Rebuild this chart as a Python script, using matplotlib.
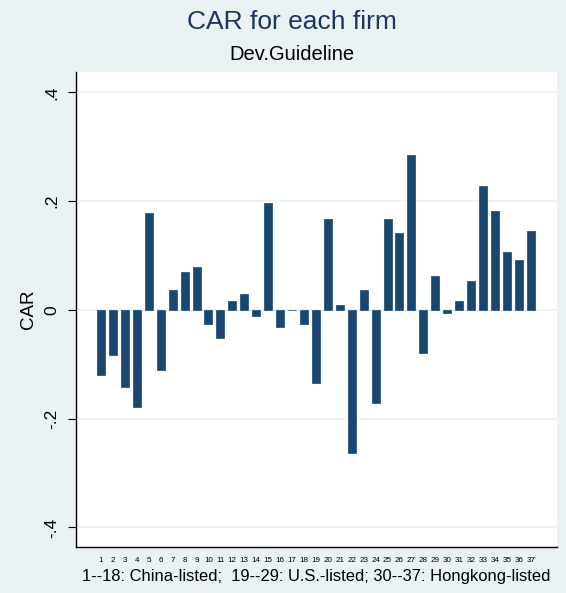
import numpy as np
import matplotlib.pyplot as plt

plt.rcParams['font.family'] = ['Liberation Sans', 'DejaVu Sans']

# firm numbers and CAR values
firms = list(range(1, 38))
car = [-0.119, -0.083, -0.142, -0.179, 0.178, -0.110, 0.036, 0.069, 0.079, -0.025,
       -0.051, 0.016, 0.029, -0.011, 0.196, -0.031, 0.0, -0.026, -0.135, 0.167,
       0.009, -0.263, 0.036, -0.172, 0.167, 0.141, 0.284, -0.080, 0.063, -0.005,
       0.016, 0.053, 0.227, 0.181, 0.107, 0.091, 0.146]
yticks = [-0.4, -0.2, 0, 0.2, 0.4]
ytick_labels = ['-.4', '-.2', '0', '.2', '.4']

bg = '#EAF2F3'
bar_color = '#1A476F'

fig = plt.figure(figsize=(5.66, 5.93), dpi=100, facecolor=bg)
ax = fig.add_axes([76/566, 1 - 547/593, (557 - 76)/566, (547 - 72)/593])
ax.set_facecolor('white')

ax.bar(firms, car, width=0.67, color=bar_color, edgecolor=bar_color, linewidth=0.5, zorder=3)

ax.set_xlim(-1.1, 39.2)
ax.set_ylim(-0.436, 0.4375)
ax.set_yticks(yticks)
ax.set_yticklabels(ytick_labels, rotation=90, va='center', fontsize=12.5)
ax.set_xticks(firms)
ax.set_xticklabels([str(f) for f in firms], fontsize=5.8)
ax.tick_params(axis='x', length=0, pad=7)
ax.tick_params(axis='y', length=6, width=0.8, pad=6)
ax.grid(axis='y', color=bg, linewidth=1.2, zorder=0)

for s in ['top', 'right']:
    ax.spines[s].set_visible(False)
ax.spines['left'].set_linewidth(1)
ax.spines['bottom'].set_linewidth(1)

ax.set_ylabel('CAR', fontsize=13.5, labelpad=5)
ax.set_xlabel('1--18: China-listed;  19--29: U.S.-listed; 30--37: Hongkong-listed',
              fontsize=11.9, labelpad=4)

fig.text(292/566, 1 - 22/593, 'CAR for each firm', ha='center', va='center',
         fontsize=19, color='#1E3560')
fig.text(292/566, 1 - 55/593, 'Dev.Guideline', ha='center', va='center',
         fontsize=14.5, color='black')

fig.savefig('out.png', dpi=100, facecolor=bg)
